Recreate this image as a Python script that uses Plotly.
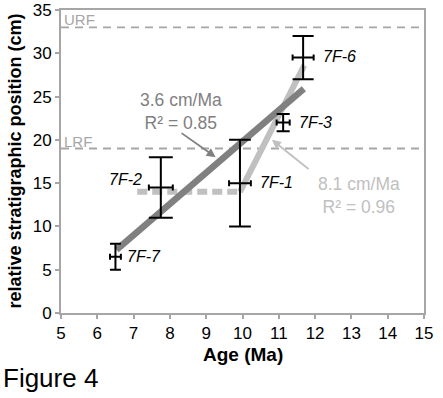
import plotly.graph_objects as go

# Data
samples = ["7F-7", "7F-2", "7F-1", "7F-3", "7F-6"]
age = [6.5, 7.75, 9.93, 11.12, 11.67]
age_err = [0.15, 0.33, 0.3, 0.18, 0.29]
pos = [6.5, 14.5, 15, 22, 29.5]
pos_err_plus = [1.5, 3.5, 5, 1, 2.5]
pos_err_minus = [1.5, 3.5, 5, 1, 2.5]

fit1_x = [6.53, 11.69]
fit1_y = [7.3, 25.9]
fit2_x = [9.93, 11.7]
fit2_y = [14.0, 28.6]
flat_x = [7.1, 9.93]
flat_y = [14.0, 14.0]

ref_levels = [33, 19]
ref_names = ["URF", "LRF"]

label_x = [6.76, 7.3, 10.43, 11.49, 12.15]
label_y = [6.5, 15.4, 15.05, 22, 29.6]
label_anchor = ["left", "right", "left", "left", "left"]

GRID = "#a6a6a6"
DARK = "#808080"
LIGHT = "#c0c0c0"
FONT = "Liberation Sans, Arial, sans-serif"
PX_PER_MA = 363 / 10.0  # plot width / x range, for cap widths

fig = go.Figure()

for lvl in ref_levels:
    fig.add_trace(go.Scatter(x=[5, 15], y=[lvl, lvl], mode="lines",
                             line=dict(color=GRID, width=1.8, dash="8px,6px"),
                             hoverinfo="skip", showlegend=False))

fig.add_trace(go.Scatter(x=flat_x, y=flat_y, mode="lines",
                         line=dict(color=LIGHT, width=6, dash="10px,5px"),
                         showlegend=False))
fig.add_trace(go.Scatter(x=fit2_x, y=fit2_y, mode="lines",
                         line=dict(color=LIGHT, width=6), showlegend=False))
fig.add_trace(go.Scatter(x=fit1_x, y=fit1_y, mode="lines",
                         line=dict(color=DARK, width=6.5), showlegend=False))

for a, ae, p, pp, pm in zip(age, age_err, pos, pos_err_plus, pos_err_minus):
    fig.add_trace(go.Scatter(
        x=[a], y=[p], mode="markers",
        marker=dict(size=1, color="black"),
        error_y=dict(type="data", array=[pp], arrayminus=[pm],
                     color="black", thickness=2, width=ae * PX_PER_MA),
        error_x=dict(type="data", array=[ae], color="black", thickness=2, width=3),
        showlegend=False))

for name, lx, ly, anc in zip(samples, label_x, label_y, label_anchor):
    fig.add_annotation(x=lx, y=ly, text=f"<i>{name}</i>", showarrow=False,
                       xanchor=anc, yanchor="middle",
                       font=dict(size=16, color="black", family=FONT))

for name, lvl in zip(ref_names, ref_levels):
    fig.add_annotation(x=5.03, y=lvl, text=name, showarrow=False,
                       xanchor="left", yanchor="bottom", yshift=-3,
                       font=dict(size=15, color=GRID, family=FONT))

fig.add_annotation(x=8.31, y=23.3, text="3.6 cm/Ma<br>R² = 0.85", showarrow=False,
                   align="center", font=dict(size=17.5, color=DARK, family=FONT))
fig.add_annotation(x=9.26, y=18.0, ax=8.28, ay=20.9, axref="x", ayref="y",
                   text="", showarrow=True, arrowhead=2, arrowsize=1,
                   arrowwidth=1.8, arrowcolor=DARK)

fig.add_annotation(x=13.2, y=13.6, text="8.1 cm/Ma<br>R² = 0.96", showarrow=False,
                   align="center", font=dict(size=17.5, color=LIGHT, family=FONT))
fig.add_annotation(x=10.81, y=20.0, ax=11.86, ay=16.5, axref="x", ayref="y",
                   text="", showarrow=True, arrowhead=2, arrowsize=1,
                   arrowwidth=1.8, arrowcolor=LIGHT)

fig.add_annotation(x=0, y=0, xref="paper", yref="paper", xanchor="left",
                   yanchor="top", xshift=-60, yshift=-48, text="Figure 4",
                   showarrow=False, font=dict(size=26, color="black", family=FONT))

# axis titles as annotations for exact placement
fig.add_annotation(x=0.5, y=0, xref="paper", yref="paper", xanchor="center",
                   yanchor="middle", yshift=-41, text="<b>Age (Ma)</b>",
                   showarrow=False, font=dict(size=19, color="black", family=FONT))
fig.add_annotation(x=0, y=0.5, xref="paper", yref="paper", xanchor="center",
                   yanchor="middle", xshift=-47, textangle=-90,
                   text="<b>relative stratigraphic position (cm)</b>",
                   showarrow=False, font=dict(size=18, color="black", family=FONT))

fig.update_xaxes(range=[5, 15], dtick=1, tick0=5, showgrid=False, zeroline=False,
                 showline=True, linecolor=GRID, linewidth=2, mirror=True,
                 ticks="outside", ticklen=4, tickcolor=GRID, tickwidth=1.5,
                 automargin=False,
                 tickfont=dict(size=17, color="black", family=FONT))
fig.update_yaxes(range=[0, 35], dtick=5, showgrid=False, zeroline=False,
                 showline=True, linecolor=GRID, linewidth=2, mirror=True,
                 ticks="outside", ticklen=4, tickcolor=GRID, tickwidth=1.5,
                 automargin=False,
                 tickfont=dict(size=17, color="black", family=FONT))

fig.update_layout(width=443, height=398,
                  margin=dict(l=61, r=19, t=10, b=85, autoexpand=False),
                  plot_bgcolor="white", paper_bgcolor="white",
                  font=dict(family=FONT))

fig.write_html("out.html", config={"displayModeBar": False},
               post_script="document.body.style.margin='0';document.body.style.padding='0';")
